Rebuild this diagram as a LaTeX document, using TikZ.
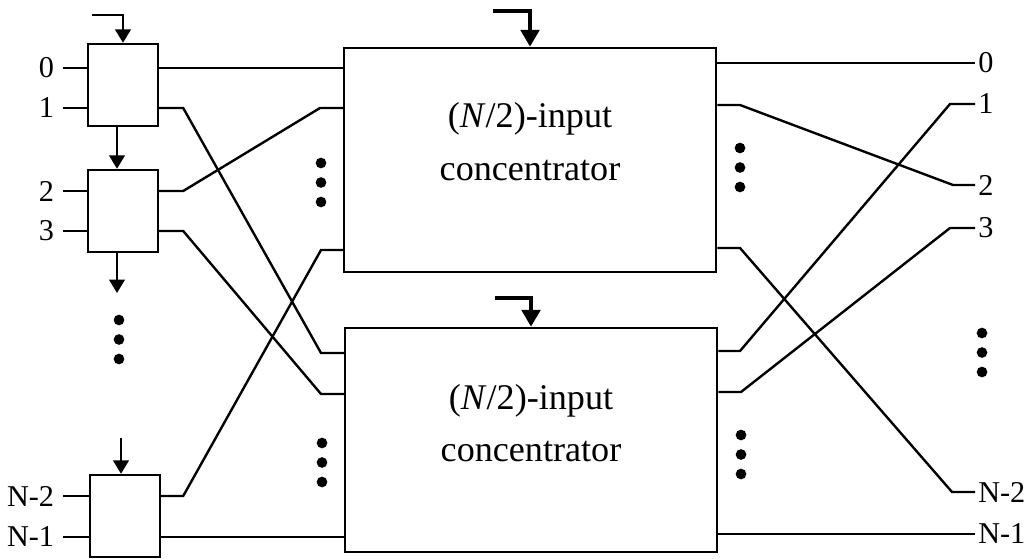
\documentclass[tikz,border=0pt]{standalone}
\usepackage{fontspec}
\setmainfont{Liberation Serif}
\usetikzlibrary{arrows.meta,positioning}

\begin{document}
\begin{tikzpicture}[x=0.025cm, y=-0.025cm, line width=1.7pt,
  swbox/.style={draw, rectangle, minimum width=1.75cm, minimum height=2.05cm, inner sep=0pt},
  concbox/.style={draw, rectangle, minimum width=9.3cm, minimum height=5.6cm, inner sep=0pt},
  conctext/.style={align=center, font=\fontsize{25.7}{37.6}\selectfont},
  inlbl/.style={anchor=east, inner xsep=5.5pt, inner ysep=1pt, font=\fontsize{21.5}{25}\selectfont},
  outlbl/.style={anchor=west, inner xsep=1.5pt, inner ysep=1pt, font=\fontsize{21.5}{25}\selectfont},
  ctrl/.style={-{Triangle[length=9.5pt, width=11pt]}},
  bigctrl/.style={line width=3pt, -{Triangle[length=12pt, width=13pt]}}]
\useasboundingbox (0,0) rectangle (1029,558);

% 2x2 switches, one per input pair
\node[swbox] (sw0) at (123,85) {};
\node[swbox] (sw1) at (123,211) {};
\node[swbox] (swN) at (125,516) {};

% two half-size concentrators
\node[concbox] (cc1) at (530,160) {};
\node[concbox] (cc2) at (531,440) {};
\node[conctext, yshift=13pt] (t1) at (cc1) {(\textit{N}/2)-input\\concentrator};
\node[conctext, yshift=12pt] (t2) at (cc2) {(\textit{N}/2)-input\\concentrator};

% inputs
\foreach \n/\y/\t/\s in {0/68/0/sw0, 1/108/1/sw0, 2/191/2/sw1, 3/231/3/sw1, N2/496/N-2/swN, N1/537/N-1/swN} {
  \node[inlbl] (l\n) at (63,\y) {\t};
  \draw (l\n.east) -- (l\n.east -| \s.west);
}

% outputs
\foreach \n/\y/\t in {0/63/0, 1/104/1, 2/185/2, 3/228/3, N2/492/N-2, N1/534/N-1}
  \node[outlbl] (r\n) at (975,\y) {\t};

% switch outputs -> concentrator inputs
\draw (sw0.east |- l0) -- (cc1.west |- l0);
\draw (sw0.east |- l1) -- ++(24,0) -- (321,353) -- (cc2.west |- 0,353);
\draw (sw1.east |- l2) -- ++(24,0) -- (320,108) -- (cc1.west |- 0,108);
\draw (sw1.east |- l3) -- ++(24,0) -- (321,394) -- (cc2.west |- 0,394);
\draw (swN.east |- lN2) -- ++(22,0) -- (321,250) -- (cc1.west |- 0,250);
\draw (swN.east |- lN1) -- (cc2.west |- lN1);

% concentrator outputs -> network outputs
\draw (cc1.east |- r0) -- (r0.west);
\draw (cc1.east |- 0,105) -- (740,105) -- (953,185) -- (r2.west);
\draw (cc1.east |- 0,248) -- (740,248) -- (952,492) -- (rN2.west);
\draw (cc2.east |- 0,351) -- (740,351) -- (950,104) -- (r1.west);
\draw (cc2.east |- 0,392) -- (741,392) -- (950,228) -- (r3.west);
\draw (cc2.east |- rN1) -- (rN1.west);

% vertical ellipses
\foreach \x/\y in {119/320, 321/163, 322/443, 740/148, 741/435, 982/333}
  \foreach \k in {0,1,2}
    \fill (\x,\y+19.5*\k) circle[radius=3.8pt];

% control signals
\draw[ctrl] (92,15) -- (123,15) -- (sw0.north);
\draw[ctrl] (117,0 |- sw0.south) -- (117,0 |- sw1.north);
\draw[ctrl] (117,0 |- sw1.south) -- (117,293);
\draw[ctrl] (121,438) -- (121,0 |- swN.north);
\draw[bigctrl] (493,11) -- (530,11) -- (cc1.north);
\draw[bigctrl] (495,298) -- (531,298) -- (cc2.north);
\end{tikzpicture}
\end{document}
